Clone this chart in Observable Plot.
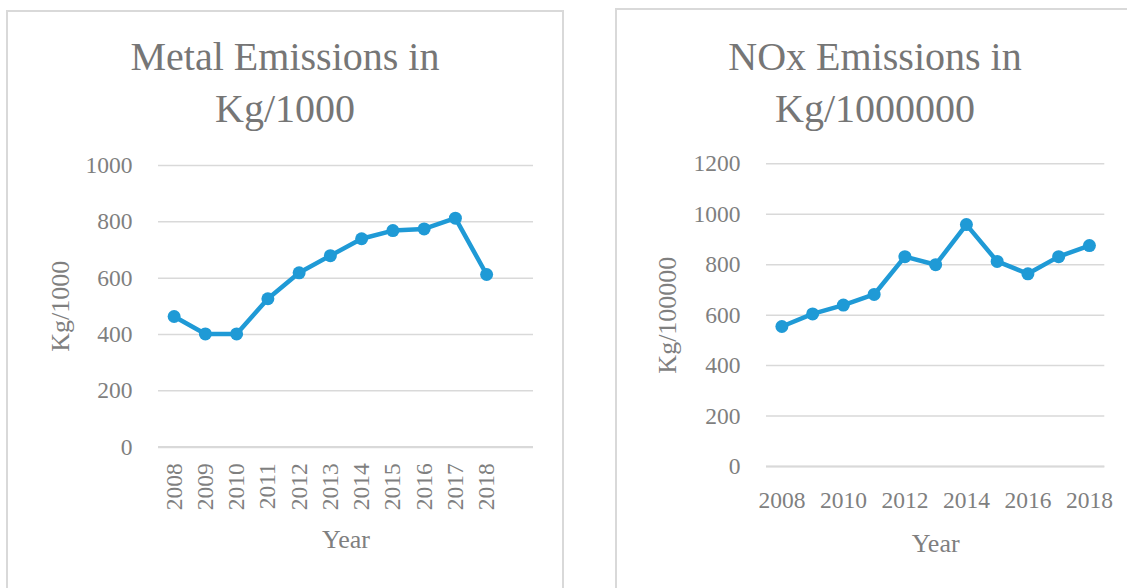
<!DOCTYPE html>
<html><head><meta charset="utf-8">
<script src="https://cdn.jsdelivr.net/npm/d3@7"></script>
<script src="https://cdn.jsdelivr.net/npm/@observablehq/plot@0.6"></script>
<style>
body{margin:0;background:#fff;}
#page{position:relative;width:1127px;height:588px;overflow:hidden;font-family:"Palatino Linotype","Book Antiqua",Palatino,"Liberation Serif",serif;}
.box{position:absolute;border:2px solid #d9d9d9;box-sizing:border-box;}
.title{position:absolute;text-align:center;font-size:40px;line-height:52px;color:#767676;white-space:nowrap;}
.chart{position:absolute;}
</style></head><body>
<div id="page">
  <div class="box" style="left:6px;top:10px;width:558px;height:620px"></div>
  <div class="box" style="left:615px;top:8px;width:540px;height:620px"></div>
  <div class="title" style="left:6px;width:558px;top:31px">Metal Emissions in<br>Kg/1000</div>
  <div class="title" style="left:615px;width:520px;top:31px">NOx Emissions in<br>Kg/1000000</div>
  <div class="chart" id="c1" style="left:10px;top:150px"></div>
  <div class="chart" id="c2" style="left:625px;top:150px"></div>
</div>
<script>
const years = [2008, 2009, 2010, 2011, 2012, 2013, 2014, 2015, 2016, 2017, 2018];
const metal = [464, 402, 402, 527, 619, 680, 740, 769, 775, 813, 613];
const nox = [555, 605, 640, 682, 832, 800, 959, 813, 764, 832, 876];
const metalYTicks = [0, 200, 400, 600, 800, 1000];
const noxYTicks = [0, 200, 400, 600, 800, 1000, 1200];
const noxXTicks = [2008, 2010, 2012, 2014, 2016, 2018];

const FONT = '"Palatino Linotype","Book Antiqua",Palatino,"Liberation Serif",serif';
const TEXT = "#7f7f7f";
const GRID = "#d9d9d9";
const BLUE = "#1f9ad6";

const metalData = years.map((y, i) => ({year: y, value: metal[i]}));
const noxData = years.map((y, i) => ({year: y, value: nox[i]}));

const c1 = Plot.plot({
  width: 545, height: 430,
  marginLeft: 148, marginRight: 22, marginTop: 15, marginBottom: 133.3,
  style: {fontFamily: FONT, color: TEXT, background: "transparent", overflow: "visible"},
  x: {type: "linear", domain: [2007.5, 2019.5]},
  y: {domain: [0, 1000]},
  marks: [
    Plot.gridY(metalYTicks, {stroke: GRID, strokeOpacity: 1, strokeWidth: 1.5}),
    Plot.ruleY([0], {stroke: GRID, strokeWidth: 2.2}),
    Plot.axisX(years, {tickRotate: -90, tickSize: 0, tickPadding: 16, tickFormat: d => String(d), label: null, fontSize: 23.5, fill: TEXT}),
    Plot.axisX([], {tickSize: 0, label: "Year", labelAnchor: "center", labelOffset: 101, labelArrow: "none", fontSize: 26, fill: TEXT}),
    Plot.axisY(metalYTicks, {tickSize: 0, tickPadding: 26, tickFormat: d => String(d), label: null, fontSize: 23.5, fill: TEXT}),
    Plot.axisY([], {tickSize: 0, label: "Kg/1000", labelAnchor: "center", labelOffset: 108, labelArrow: "none", fontSize: 26, fill: TEXT}),
    Plot.line(metalData, {x: "year", y: "value", stroke: BLUE, strokeWidth: 4.5}),
    Plot.dot(metalData, {x: "year", y: "value", r: 6.5, fill: BLUE, stroke: "none"})
  ]
});
document.getElementById("c1").appendChild(c1);

const c2 = Plot.plot({
  width: 495, height: 430,
  marginLeft: 141, marginRight: 15.7, marginTop: 13.3, marginBottom: 114,
  style: {fontFamily: FONT, color: TEXT, background: "transparent", overflow: "visible"},
  x: {type: "linear", domain: [2007.5, 2018.5]},
  y: {domain: [0, 1200]},
  marks: [
    Plot.gridY(noxYTicks, {stroke: GRID, strokeOpacity: 1, strokeWidth: 1.5}),
    Plot.ruleY([0], {stroke: GRID, strokeWidth: 2.2}),
    Plot.axisX(noxXTicks, {tickSize: 0, tickPadding: 25, tickFormat: d => String(d), label: null, fontSize: 23.5, fill: TEXT}),
    Plot.axisX([], {tickSize: 0, label: "Year", labelAnchor: "center", labelOffset: 85, labelArrow: "none", fontSize: 26, fill: TEXT}),
    Plot.axisY(noxYTicks, {tickSize: 0, tickPadding: 26, tickFormat: d => String(d), label: null, fontSize: 23.5, fill: TEXT}),
    Plot.axisY([], {tickSize: 0, label: "Kg/100000", labelAnchor: "center", labelOffset: 109, labelArrow: "none", fontSize: 26, fill: TEXT}),
    Plot.line(noxData, {x: "year", y: "value", stroke: BLUE, strokeWidth: 4.5}),
    Plot.dot(noxData, {x: "year", y: "value", r: 6.5, fill: BLUE, stroke: "none"})
  ]
});
document.getElementById("c2").appendChild(c2);
</script>
</body></html>
